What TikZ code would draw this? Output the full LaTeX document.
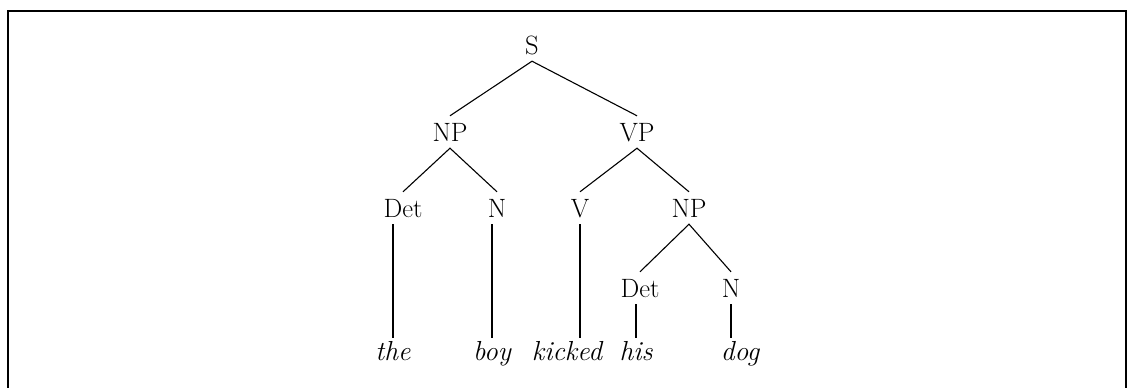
\documentclass[tikz,border=0pt]{standalone}
\usepackage{fontspec}
\usepackage{tikz}
\usetikzlibrary{positioning}

\tikzset{
    cat/.style={font=\fontsize{26.5}{31}\selectfont, anchor=base, inner xsep=1pt, inner ysep=7pt, text height=18pt, text depth=0pt},
    word/.style={cat, font=\fontsize{27.5}{32}\selectfont\itshape, inner ysep=3pt, text height=19pt},
    branch/.style={line width=1.1pt},
    frame/.style={line width=1.8pt}
}

\begin{document}
\begin{tikzpicture}[x=1pt, y=-1pt]
                \useasboundingbox (0,0) rectangle (1128,388);
                \draw[frame] (8,388) -- (8,11) -- (1126,11) -- (1126,388);

                \node[cat] (s) at (532,54) {S};
                \node[cat] (np) at (450,141) {NP};
                \node[cat] (vp) at (637,141) {VP};
                \node[cat] (det) at (403,217) {Det};
                \node[cat] (n) at (497,217) {N};
                \node[cat] (v) at (580,217) {V};
                \node[cat] (np2) at (689,217) {NP};
                \node[cat] (det2) at (640,297) {Det};
                \node[cat] (n2) at (731,297) {N};

                \node[word] (the) at (393,360) {the};
                \node[word] (boy) at (492,360) {boy};
                \node[word] (kicked) at (567,360) {kicked};
                \node[word] (his) at (636,360) {his};
                \node[word] (dog) at (740,360) {dog};

                \draw[branch] (np.north) -- (s.south) -- (vp.north);
                \draw[branch] (det.north) -- (np.south) -- (n.north);
                \draw[branch] (v.north) -- (vp.south) -- (np2.north);
                \draw[branch] (det2.north) -- (np2.south) -- (n2.north);

                \draw[branch] (the.north) -- (the.north |- det.south);
                \draw[branch] (boy.north) -- (boy.north |- n.south);
                \draw[branch] (v.south) -- (v.south |- kicked.north);
                \draw[branch] (his.north) -- (his.north |- det2.south);
                \draw[branch] (n2.south) -- (n2.south |- dog.north);
            \end{tikzpicture}
\end{document}
